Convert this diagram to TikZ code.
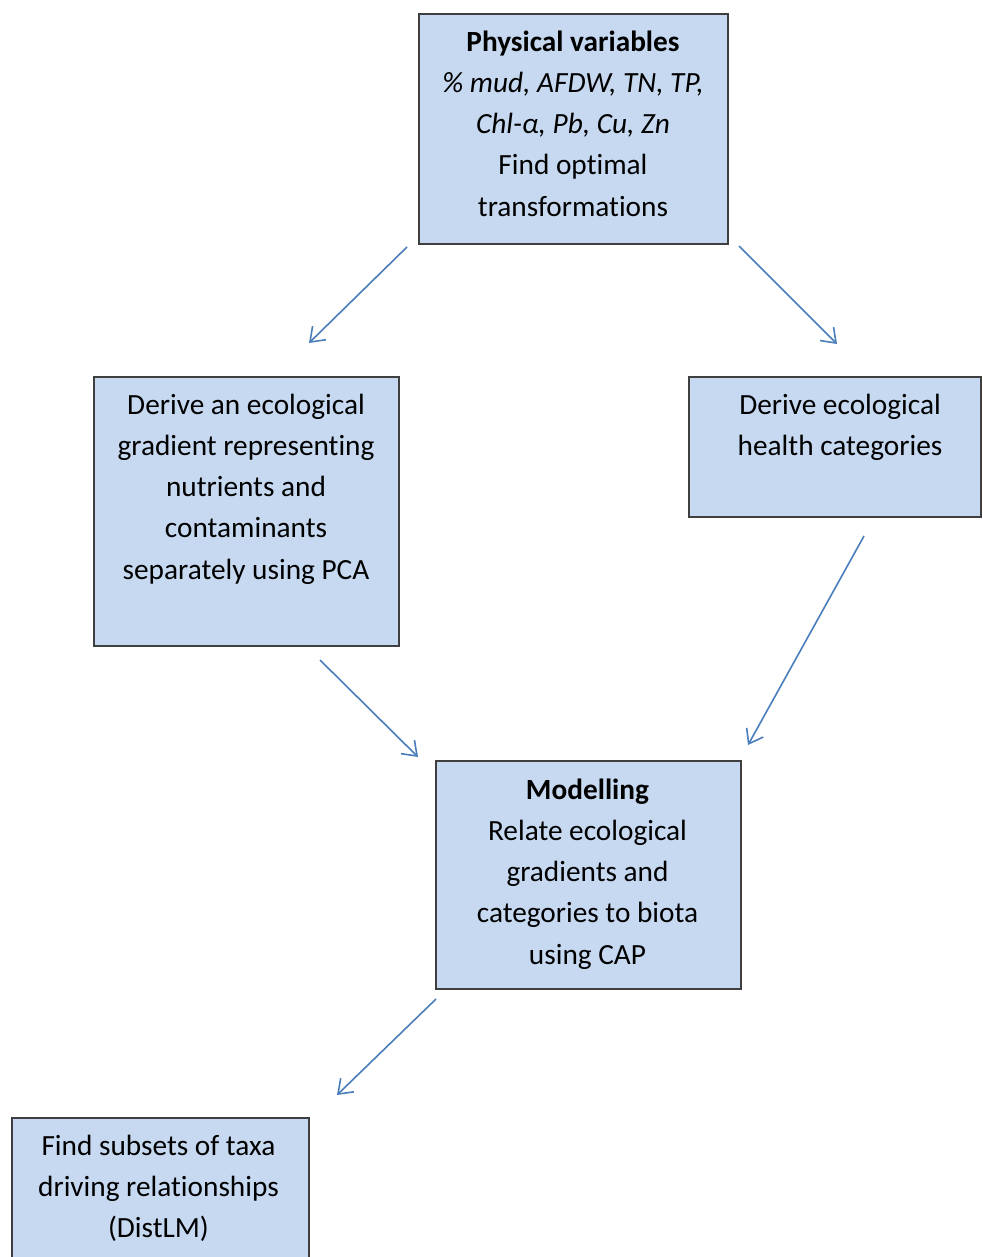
\documentclass[tikz,border=0pt]{standalone}
\usepackage{fontspec}
\setmainfont{Carlito}[Ligatures={NoCommon}]
\usetikzlibrary{arrows.meta}
\definecolor{boxfill}{HTML}{C6D9F1}
\definecolor{boxline}{HTML}{3F3F3F}
\definecolor{arrowc}{HTML}{4A7EBB}
\begin{document}
\begin{tikzpicture}[x=1pt,y=-1pt,
  box/.style={draw=boxline, fill=boxfill, line width=2pt, anchor=north west, inner sep=0pt},
  txt/.style={anchor=north, inner sep=0pt, align=center, font=\fontsize{29.3}{41.2}\selectfont},
  flow/.style={draw=arrowc, line width=1.6pt, -{Straight Barb[length=13pt,width=19pt]}}]
\useasboundingbox (0,0) rectangle (982,1257);
% boxes
\node[box, minimum width=309pt, minimum height=230pt] (phys) at (418,13) {};
\node[box, minimum width=305pt, minimum height=269pt] (pca) at (93,376) {};
\node[box, minimum width=292pt, minimum height=140pt] (health) at (688,376) {};
\node[box, minimum width=305pt, minimum height=228pt] (model) at (435,760) {};
\node[box, minimum width=297pt, minimum height=160pt] (distlm) at (11,1117) {};
% texts
\node[txt] (physT) at (573,22.2) {\strut\textbf{Physical variables}\\ \textit{\% mud, AFDW, TN, TP,}\\ \textit{Chl-α, Pb, Cu, Zn}\\ Find optimal\\ transformations};
\node[txt] (pcaT) at (246,385.2) {\strut Derive an ecological\\ gradient representing\\ nutrients and\\ contaminants\\ separately using PCA};
\node[txt] (healthT) at (840,385.2) {\strut Derive ecological\\ health categories};
\node[txt] (modelT) at (587.5,770.2) {\strut\textbf{Modelling}\\ Relate ecological\\ gradients and\\ categories to biota\\ using CAP};
\node[txt] (distlmT) at (158.5,1126.2) {\strut Find subsets of taxa\\ driving relationships\\ (DistLM)};
% arrow end points
\coordinate (a1s) at (407,247); \coordinate (a1e) at (309,343);
\coordinate (a2s) at (739,246); \coordinate (a2e) at (837,344);
\coordinate (a3s) at (320,660); \coordinate (a3e) at (418,757);
\coordinate (a4s) at (864,536); \coordinate (a4e) at (748,745);
\coordinate (a5s) at (436,999); \coordinate (a5e) at (337,1095);
\draw[flow] (a1s) -- (a1e);
\draw[flow] (a2s) -- (a2e);
\draw[flow] (a3s) -- (a3e);
\draw[flow] (a4s) -- (a4e);
\draw[flow] (a5s) -- (a5e);
\end{tikzpicture}
\end{document}
